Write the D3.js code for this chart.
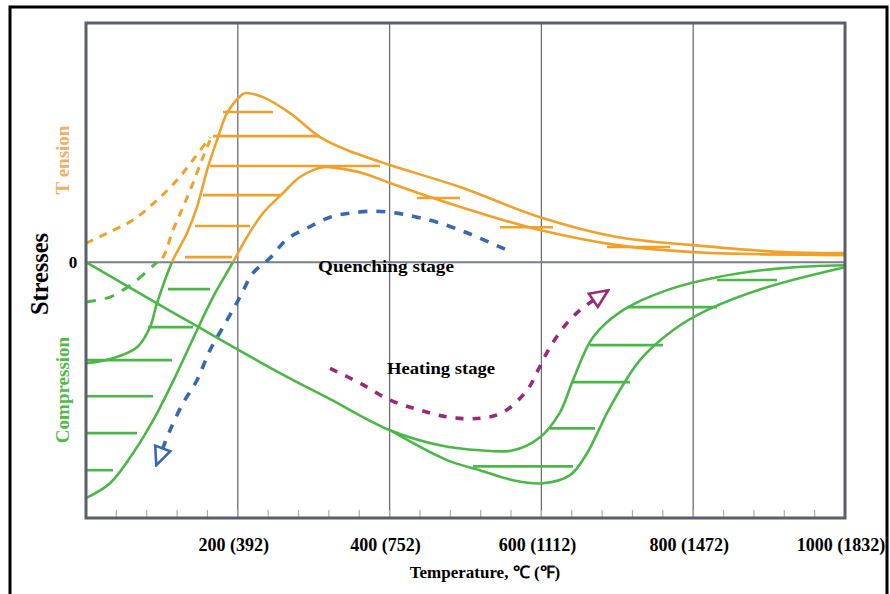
<!DOCTYPE html>
<html>
<head>
<meta charset="utf-8">
<script src="https://cdn.jsdelivr.net/npm/d3@7"></script>
<style>
  body { margin: 0; background: #fff; }
  svg { display: block; }
</style>
</head>
<body>
<div id="chart"></div>
<script>
// temperature in degC, stress in relative units (0 = neutral)
const tempTicks = [200, 400, 600, 800, 1000];
const tickLabels = ["200 (392)", "400 (752)", "600 (1112)", "800 (1472)", "1000 (1832)"];
const gridTemps = [200, 400, 600, 800];

// quenching: core curve and surface curve (orange above 0, green below)
const coreCurve = [[0,-42.3],[35.6,-40.2],[67.2,-35.6],[84.3,-27.2],[93.5,-17.2],[113.3,0],[133,12.1],[146.2,23],[160.7,39.7],[172.6,51],[185.8,62.3],[202.9,69.3],[210,70.7],[233.2,69],[268.8,62.3],[308.3,52.3],[343.9,46.9],[400.5,40.6],[492.8,31.4],[598.2,18.8],[699.6,10.5],[799.7,7.1],[918.3,4.2],[1000,3.8]];
const surfaceCurve = [[0,-98.7],[31.6,-92.5],[61.9,-79.9],[93.5,-63.2],[119.9,-46.4],[146.2,-28.5],[167.3,-14.6],[193.7,0],[212.1,10.5],[233.2,20.5],[259.6,28.9],[282,35.6],[312.3,39.7],[330.7,39.3],[365,37.2],[400.5,33.1],[453.2,27.2],[519.1,20.5],[598.2,13.4],[699.6,7.1],[799.7,4.2],[1000,2.9]];
const dashUpper = [[0,7.9],[27.7,12.1],[61.9,17.6],[93.5,25.9],[119.9,34.3],[141,42.7],[163.4,52.3]];
const dashLower = [[0,-16.7],[31.6,-14.6],[61.9,-8.8],[90.9,-0.8],[101.4,2.1],[114.6,13.4],[127.8,23],[141,33.1],[154.2,43.9],[163.4,51]];

// heating: two green curves
const heatUpper = [[0,0],[93.5,-17.2],[146.2,-26.8],[255.6,-46.4],[321.5,-57.3],[400.5,-70.3],[466.4,-76.6],[519.1,-78.7],[562.6,-78.7],[598.2,-73.2],[624.5,-62.8],[641.6,-49.4],[668,-31.4],[707.5,-20.1],[765.5,-11.7],[831.4,-6.3],[918.3,-2.5],[1000,-1.3]];
const heatLower = [[400.5,-70.3],[475.6,-82.8],[519.1,-87],[562.6,-91.2],[602.1,-92.5],[637.7,-89.1],[660.1,-79.9],[690.4,-60.7],[729.9,-41],[773.4,-28.5],[818.2,-20.1],[897.2,-10.5],[1000,-2.1]];

// stage arrows
const quenchPath = [[552,5.4],[519.1,10],[492.8,13.4],[462.5,16.7],[436.1,18.8],[409.8,20.5],[380.8,21.3],[347.8,20.5],[321.5,18.8],[291.2,14.2],[264.8,9.6],[242.4,1.7],[220,-4.6],[202.9,-14.6],[185.8,-24.3],[163.4,-36.8],[146.2,-49.4],[127.8,-59],[110.7,-70.3],[100.1,-78.7]];
const heatPath = [[321.5,-44.4],[361,-50.6],[400.5,-57.7],[440,-61.9],[479.6,-64.9],[519.1,-65.3],[549.4,-62.8],[581,-53.6],[595.5,-45.2],[611.3,-35.6],[633.7,-25.5],[650.9,-20.1],[670.6,-15.5]];

// hatching: [stress, fromTemp, toTemp]
const hatches = [[62.8,180.5,246.4],[52.7,167.3,308.3],[40.2,163.4,387.4],[28,154.2,255.6],[15.1,143.6,216.1],[2.1,130.4,192.4],
  [26.8,436.1,492.8],[14.6,545.5,615.3],[6.3,686.4,769.4],[3.3,888,931.5],
  [-11.3,108,163.4],[-27.2,81.7,141],[-41,0,113.3],[-56.1,0,88.3],[-71.5,0,67.2],[-87,0,35.6],
  [-7.5,831.4,910.4],[-18.8,712.8,831.4],[-34.7,664,760.2],[-50.2,640.3,716.7],[-69.5,611.3,670.6],[-85.4,509.9,641.6]];

const orange = "#f0a12c", green = "#4cb748", blue = "#3a68b0", magenta = "#982a78";
const serif = "'Liberation Serif', 'Times New Roman', serif";

const svg = d3.select("#chart").append("svg")
    .attr("width", 890)
    .attr("height", 594);

// outer frame
svg.append("rect")
    .attr("x", 10).attr("y", 7)
    .attr("width", 877).attr("height", 600)
    .attr("fill", "none")
    .attr("stroke", "#000")
    .attr("stroke-width", 3);

const x = d3.scaleLinear().domain([0, 1000]).range([86, 845]);
const y = d3.scaleLinear().domain([-107, 100]).range([518, 23]);

const defs = svg.append("defs");
defs.append("clipPath").attr("id", "above")
    .append("rect")
    .attr("x", x(0) - 5).attr("y", y(100))
    .attr("width", x(1000) - x(0) + 10).attr("height", y(0) - y(100));
defs.append("clipPath").attr("id", "below")
    .append("rect")
    .attr("x", x(0) - 5).attr("y", y(0))
    .attr("width", x(1000) - x(0) + 10).attr("height", y(-107) - y(0));

function arrowMarker(id, color) {
    defs.append("marker")
        .attr("id", id)
        .attr("viewBox", "0 0 22 20")
        .attr("refX", 4).attr("refY", 10)
        .attr("markerWidth", 22).attr("markerHeight", 20)
        .attr("markerUnits", "userSpaceOnUse")
        .attr("orient", "auto")
        .append("path")
        .attr("d", "M2,2 L20,10 L2,18 Z")
        .attr("fill", "#fff")
        .attr("stroke", color)
        .attr("stroke-width", 2.6)
        .attr("stroke-linejoin", "miter");
}
arrowMarker("arrowBlue", blue);
arrowMarker("arrowMagenta", magenta);

// grid lines
svg.append("g").selectAll("line")
    .data(gridTemps)
    .join("line")
    .attr("x1", d => x(d)).attr("x2", d => x(d))
    .attr("y1", y(100)).attr("y2", y(-107))
    .attr("stroke", "#6b6f78")
    .attr("stroke-width", 1.3);

// minor ticks along the bottom
svg.append("g").selectAll("line")
    .data(d3.range(40, 1000, 40))
    .join("line")
    .attr("x1", d => x(d)).attr("x2", d => x(d))
    .attr("y1", y(-107)).attr("y2", y(-107) - 8)
    .attr("stroke", "#a9adb5")
    .attr("stroke-width", 1.2);

// zero line
svg.append("line")
    .attr("x1", x(0)).attr("x2", x(1000))
    .attr("y1", y(0)).attr("y2", y(0))
    .attr("stroke", "#7a7e88")
    .attr("stroke-width", 2);

const line = d3.line()
    .x(d => x(d[0]))
    .y(d => y(d[1]))
    .curve(d3.curveCatmullRom.alpha(0.5));

const curves = svg.append("g").attr("fill", "none").attr("stroke-linecap", "butt");

// hatching
curves.selectAll("line.hatch")
    .data(hatches)
    .join("line")
    .attr("class", "hatch")
    .attr("x1", d => x(d[1])).attr("x2", d => x(d[2]))
    .attr("y1", d => y(d[0])).attr("y2", d => y(d[0]))
    .attr("stroke", d => d[0] >= 0 ? orange : green)
    .attr("stroke-width", 2.6);

// curves crossing zero: orange part above, green part below
[coreCurve, surfaceCurve].forEach(c => {
    curves.append("path").attr("d", line(c)).attr("stroke", orange)
        .attr("stroke-width", 2.6).attr("clip-path", "url(#above)");
    curves.append("path").attr("d", line(c)).attr("stroke", green)
        .attr("stroke-width", 2.6).attr("clip-path", "url(#below)");
});

curves.append("path").attr("d", line(dashUpper))
    .attr("stroke", orange).attr("stroke-width", 3)
    .attr("stroke-dasharray", "8,7");
curves.append("path").attr("d", line(dashLower))
    .attr("stroke", orange).attr("stroke-width", 3)
    .attr("stroke-dasharray", "8,7").attr("clip-path", "url(#above)");
curves.append("path").attr("d", line(dashLower))
    .attr("stroke", green).attr("stroke-width", 3)
    .attr("stroke-dasharray", "10,9").attr("clip-path", "url(#below)");

[heatUpper, heatLower].forEach(c => {
    curves.append("path").attr("d", line(c)).attr("stroke", green).attr("stroke-width", 2.6);
});

// stage arrows
curves.append("path").attr("d", line(quenchPath))
    .attr("stroke", blue).attr("stroke-width", 3.6)
    .attr("stroke-dasharray", "9,9")
    .attr("marker-end", "url(#arrowBlue)");
curves.append("path").attr("d", line(heatPath))
    .attr("stroke", magenta).attr("stroke-width", 3.6)
    .attr("stroke-dasharray", "8,9")
    .attr("marker-end", "url(#arrowMagenta)");

// plot frame
svg.append("rect")
    .attr("x", x(0)).attr("y", y(100))
    .attr("width", x(1000) - x(0)).attr("height", y(-107) - y(100))
    .attr("fill", "none")
    .attr("stroke", "#5b5f69")
    .attr("stroke-width", 3);

// tick labels
svg.append("g").selectAll("text")
    .data(tempTicks)
    .join("text")
    .attr("x", d => x(d) - 4)
    .attr("y", 551)
    .attr("text-anchor", "middle")
    .style("font-family", serif)
    .style("font-size", "18px")
    .style("font-weight", 700)
    .text((d, i) => tickLabels[i]);

svg.append("text")
    .attr("x", 485).attr("y", 578)
    .attr("text-anchor", "middle")
    .style("font-family", serif)
    .style("font-size", "17px")
    .style("font-weight", 700)
    .text("Temperature, \u2103 (\u2109)");

svg.append("text")
    .attr("x", 73).attr("y", y(0) + 6)
    .attr("text-anchor", "middle")
    .style("font-family", serif)
    .style("font-size", "17px")
    .style("font-weight", 700)
    .text("0");

// y axis titles
svg.append("text")
    .attr("transform", "translate(48, 274) rotate(-90)")
    .attr("text-anchor", "middle")
    .attr("textLength", 82)
    .attr("lengthAdjust", "spacingAndGlyphs")
    .style("font-family", serif)
    .style("font-size", "25px")
    .style("font-weight", 700)
    .text("Stresses");

svg.append("text")
    .attr("transform", "translate(69, 160) rotate(-90)")
    .attr("text-anchor", "middle")
    .style("font-family", serif)
    .style("font-size", "19px")
    .style("font-weight", 700)
    .attr("fill", "#f4ad66")
    .text("T ension");

svg.append("text")
    .attr("transform", "translate(69, 390) rotate(-90)")
    .attr("text-anchor", "middle")
    .style("font-family", serif)
    .style("font-size", "19px")
    .style("font-weight", 700)
    .attr("fill", "#4fba45")
    .text("Compression");

// stage labels
svg.append("text")
    .attr("x", 318).attr("y", 272)
    .attr("textLength", 136)
    .attr("lengthAdjust", "spacingAndGlyphs")
    .style("font-family", serif)
    .style("font-size", "17px")
    .style("font-weight", 700)
    .text("Quenching stage");

svg.append("text")
    .attr("x", 387).attr("y", 374)
    .attr("textLength", 108)
    .attr("lengthAdjust", "spacingAndGlyphs")
    .style("font-family", serif)
    .style("font-size", "17px")
    .style("font-weight", 700)
    .text("Heating stage");
</script>
</body>
</html>
